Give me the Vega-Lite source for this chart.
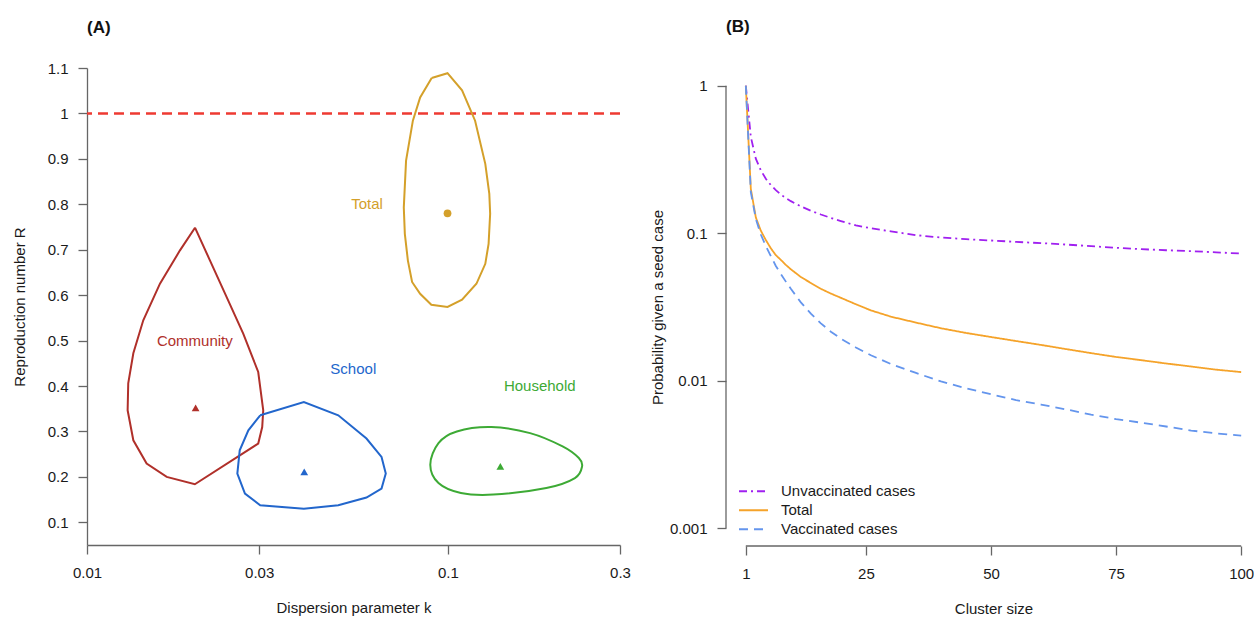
{
  "$schema": "https://vega.github.io/schema/vega-lite/v6.json",
  "background": "white",
  "padding": {"left": 12, "top": 18, "right": 0, "bottom": 0},
  "spacing": 19,
  "config": {
    "font": "Liberation Sans",
    "view": {"stroke": null},
    "axis": {
      "labelFont": "Liberation Sans", "labelFontSize": 15, "labelColor": "#1a1a1a",
      "titleFont": "Liberation Sans", "titleFontSize": 15, "titleFontWeight": "normal", "titleColor": "#1a1a1a",
      "domainColor": "#666666", "tickColor": "#666666", "domainWidth": 1.3, "tickWidth": 1.3, "tickSize": 9,
      "grid": false, "labelFlush": false, "labelOverlap": false
    },
    "axisX": {"labelPadding": 11, "titlePadding": 20},
    "axisY": {"labelPadding": 10}
  },
  "datasets": {
    "contours": [
      {"g": "Community", "o": 1, "k": 0.01992, "r": 0.7485},
      {"g": "Community", "o": 2, "k": 0.02191, "r": 0.6766},
      {"g": "Community", "o": 3, "k": 0.02438, "r": 0.5958},
      {"g": "Community", "o": 4, "k": 0.0271, "r": 0.5153},
      {"g": "Community", "o": 5, "k": 0.02982, "r": 0.4308},
      {"g": "Community", "o": 6, "k": 0.03079, "r": 0.3465},
      {"g": "Community", "o": 7, "k": 0.03059, "r": 0.3098},
      {"g": "Community", "o": 8, "k": 0.02982, "r": 0.2733},
      {"g": "Community", "o": 9, "k": 0.0199, "r": 0.1837},
      {"g": "Community", "o": 10, "k": 0.01663, "r": 0.2},
      {"g": "Community", "o": 11, "k": 0.01463, "r": 0.2293},
      {"g": "Community", "o": 12, "k": 0.01344, "r": 0.2805},
      {"g": "Community", "o": 13, "k": 0.01296, "r": 0.3465},
      {"g": "Community", "o": 14, "k": 0.01301, "r": 0.406},
      {"g": "Community", "o": 15, "k": 0.01344, "r": 0.472},
      {"g": "Community", "o": 16, "k": 0.01432, "r": 0.5446},
      {"g": "Community", "o": 17, "k": 0.01593, "r": 0.6253},
      {"g": "Community", "o": 18, "k": 0.0181, "r": 0.6986},
      {"g": "Community", "o": 19, "k": 0.01992, "r": 0.7485},
      {"g": "School", "o": 1, "k": 0.0302, "r": 0.3355},
      {"g": "School", "o": 2, "k": 0.0399, "r": 0.3648},
      {"g": "School", "o": 3, "k": 0.0497, "r": 0.3355},
      {"g": "School", "o": 4, "k": 0.0595, "r": 0.2843},
      {"g": "School", "o": 5, "k": 0.0655, "r": 0.2438},
      {"g": "School", "o": 6, "k": 0.0673, "r": 0.2072},
      {"g": "School", "o": 7, "k": 0.0655, "r": 0.1742},
      {"g": "School", "o": 8, "k": 0.0595, "r": 0.1545},
      {"g": "School", "o": 9, "k": 0.0497, "r": 0.1375},
      {"g": "School", "o": 10, "k": 0.0399, "r": 0.13},
      {"g": "School", "o": 11, "k": 0.0302, "r": 0.1375},
      {"g": "School", "o": 12, "k": 0.0274, "r": 0.1633},
      {"g": "School", "o": 13, "k": 0.0261, "r": 0.2073},
      {"g": "School", "o": 14, "k": 0.0265, "r": 0.2585},
      {"g": "School", "o": 15, "k": 0.028, "r": 0.3025},
      {"g": "School", "o": 16, "k": 0.0302, "r": 0.3355},
      {"g": "Total", "o": 1, "k": 0.0902, "r": 1.078},
      {"g": "Total", "o": 2, "k": 0.0998, "r": 1.0886},
      {"g": "Total", "o": 3, "k": 0.1095, "r": 1.051},
      {"g": "Total", "o": 4, "k": 0.119, "r": 0.984},
      {"g": "Total", "o": 5, "k": 0.127, "r": 0.889},
      {"g": "Total", "o": 6, "k": 0.1303, "r": 0.823},
      {"g": "Total", "o": 7, "k": 0.131, "r": 0.779},
      {"g": "Total", "o": 8, "k": 0.1297, "r": 0.713},
      {"g": "Total", "o": 9, "k": 0.127, "r": 0.669},
      {"g": "Total", "o": 10, "k": 0.12, "r": 0.625},
      {"g": "Total", "o": 11, "k": 0.1095, "r": 0.59},
      {"g": "Total", "o": 12, "k": 0.0998, "r": 0.574},
      {"g": "Total", "o": 13, "k": 0.09, "r": 0.579},
      {"g": "Total", "o": 14, "k": 0.0838, "r": 0.603},
      {"g": "Total", "o": 15, "k": 0.0796, "r": 0.629},
      {"g": "Total", "o": 16, "k": 0.0775, "r": 0.676},
      {"g": "Total", "o": 17, "k": 0.076, "r": 0.735},
      {"g": "Total", "o": 18, "k": 0.0755, "r": 0.793},
      {"g": "Total", "o": 19, "k": 0.0766, "r": 0.896},
      {"g": "Total", "o": 20, "k": 0.08, "r": 0.984},
      {"g": "Total", "o": 21, "k": 0.0838, "r": 1.035},
      {"g": "Total", "o": 22, "k": 0.0902, "r": 1.078}
    ],
    "household": [
      {"g": "Household", "o": 1, "k": 0.0894, "r": 0.2267},
      {"g": "Household", "o": 2, "k": 0.0942, "r": 0.2744},
      {"g": "Household", "o": 3, "k": 0.1059, "r": 0.3},
      {"g": "Household", "o": 4, "k": 0.132, "r": 0.3095},
      {"g": "Household", "o": 5, "k": 0.169, "r": 0.2963},
      {"g": "Household", "o": 6, "k": 0.208, "r": 0.267},
      {"g": "Household", "o": 7, "k": 0.2307, "r": 0.2414},
      {"g": "Household", "o": 8, "k": 0.2355, "r": 0.223},
      {"g": "Household", "o": 9, "k": 0.225, "r": 0.1974},
      {"g": "Household", "o": 10, "k": 0.1875, "r": 0.1755},
      {"g": "Household", "o": 11, "k": 0.1337, "r": 0.161},
      {"g": "Household", "o": 12, "k": 0.1087, "r": 0.1645},
      {"g": "Household", "o": 13, "k": 0.0942, "r": 0.1864}
    ],
    "estimates": [
      {"g": "Community", "k": 0.02, "r": 0.352},
      {"g": "School", "k": 0.04, "r": 0.211},
      {"g": "Household", "k": 0.1398, "r": 0.223},
      {"g": "Total", "k": 0.0998, "r": 0.78}
    ],
    "labels": [
      {"g": "Community", "k": 0.0199, "r": 0.5},
      {"g": "School", "k": 0.0547, "r": 0.438},
      {"g": "Household", "k": 0.1798, "r": 0.399},
      {"g": "Total", "k": 0.0597, "r": 0.8}
    ],
    "threshold": [
      {"r": 1}
    ],
    "clusters": [
      {"series": "Unvaccinated cases", "n": 1, "p": 1},
      {"series": "Unvaccinated cases", "n": 2, "p": 0.45},
      {"series": "Unvaccinated cases", "n": 3, "p": 0.32},
      {"series": "Unvaccinated cases", "n": 4, "p": 0.267},
      {"series": "Unvaccinated cases", "n": 5, "p": 0.234},
      {"series": "Unvaccinated cases", "n": 6, "p": 0.212},
      {"series": "Unvaccinated cases", "n": 7, "p": 0.196},
      {"series": "Unvaccinated cases", "n": 8, "p": 0.183},
      {"series": "Unvaccinated cases", "n": 9, "p": 0.173},
      {"series": "Unvaccinated cases", "n": 10, "p": 0.165},
      {"series": "Unvaccinated cases", "n": 12, "p": 0.152},
      {"series": "Unvaccinated cases", "n": 14, "p": 0.142},
      {"series": "Unvaccinated cases", "n": 16, "p": 0.134},
      {"series": "Unvaccinated cases", "n": 18, "p": 0.127},
      {"series": "Unvaccinated cases", "n": 20, "p": 0.121},
      {"series": "Unvaccinated cases", "n": 23, "p": 0.113},
      {"series": "Unvaccinated cases", "n": 26, "p": 0.108},
      {"series": "Unvaccinated cases", "n": 30, "p": 0.103},
      {"series": "Unvaccinated cases", "n": 35, "p": 0.097},
      {"series": "Unvaccinated cases", "n": 40, "p": 0.0935},
      {"series": "Unvaccinated cases", "n": 45, "p": 0.0912},
      {"series": "Unvaccinated cases", "n": 50, "p": 0.0893},
      {"series": "Unvaccinated cases", "n": 55, "p": 0.0874},
      {"series": "Unvaccinated cases", "n": 60, "p": 0.0857},
      {"series": "Unvaccinated cases", "n": 65, "p": 0.0838},
      {"series": "Unvaccinated cases", "n": 70, "p": 0.0818},
      {"series": "Unvaccinated cases", "n": 75, "p": 0.0797},
      {"series": "Unvaccinated cases", "n": 80, "p": 0.078},
      {"series": "Unvaccinated cases", "n": 85, "p": 0.0767},
      {"series": "Unvaccinated cases", "n": 90, "p": 0.0756},
      {"series": "Unvaccinated cases", "n": 95, "p": 0.0742},
      {"series": "Unvaccinated cases", "n": 100, "p": 0.0729},
      {"series": "Total", "n": 1, "p": 1},
      {"series": "Total", "n": 2, "p": 0.2},
      {"series": "Total", "n": 3, "p": 0.128},
      {"series": "Total", "n": 4, "p": 0.104},
      {"series": "Total", "n": 5, "p": 0.09},
      {"series": "Total", "n": 6, "p": 0.079},
      {"series": "Total", "n": 7, "p": 0.071},
      {"series": "Total", "n": 8, "p": 0.066},
      {"series": "Total", "n": 9, "p": 0.061},
      {"series": "Total", "n": 10, "p": 0.057},
      {"series": "Total", "n": 12, "p": 0.0505},
      {"series": "Total", "n": 14, "p": 0.046},
      {"series": "Total", "n": 16, "p": 0.042},
      {"series": "Total", "n": 18, "p": 0.039},
      {"series": "Total", "n": 20, "p": 0.0365},
      {"series": "Total", "n": 23, "p": 0.033},
      {"series": "Total", "n": 26, "p": 0.03},
      {"series": "Total", "n": 30, "p": 0.0272},
      {"series": "Total", "n": 35, "p": 0.0248},
      {"series": "Total", "n": 40, "p": 0.0227},
      {"series": "Total", "n": 45, "p": 0.0211},
      {"series": "Total", "n": 50, "p": 0.0198},
      {"series": "Total", "n": 55, "p": 0.0186},
      {"series": "Total", "n": 60, "p": 0.0175},
      {"series": "Total", "n": 65, "p": 0.0164},
      {"series": "Total", "n": 70, "p": 0.0154},
      {"series": "Total", "n": 75, "p": 0.0145},
      {"series": "Total", "n": 80, "p": 0.0138},
      {"series": "Total", "n": 85, "p": 0.0131},
      {"series": "Total", "n": 90, "p": 0.0125},
      {"series": "Total", "n": 95, "p": 0.0119},
      {"series": "Total", "n": 100, "p": 0.01145},
      {"series": "Vaccinated cases", "n": 1, "p": 1},
      {"series": "Vaccinated cases", "n": 2, "p": 0.19},
      {"series": "Vaccinated cases", "n": 3, "p": 0.125},
      {"series": "Vaccinated cases", "n": 4, "p": 0.098},
      {"series": "Vaccinated cases", "n": 5, "p": 0.082},
      {"series": "Vaccinated cases", "n": 6, "p": 0.07},
      {"series": "Vaccinated cases", "n": 7, "p": 0.06},
      {"series": "Vaccinated cases", "n": 8, "p": 0.053},
      {"series": "Vaccinated cases", "n": 9, "p": 0.047},
      {"series": "Vaccinated cases", "n": 10, "p": 0.042},
      {"series": "Vaccinated cases", "n": 12, "p": 0.034},
      {"series": "Vaccinated cases", "n": 14, "p": 0.0285},
      {"series": "Vaccinated cases", "n": 16, "p": 0.0245},
      {"series": "Vaccinated cases", "n": 18, "p": 0.0215},
      {"series": "Vaccinated cases", "n": 20, "p": 0.0193},
      {"series": "Vaccinated cases", "n": 23, "p": 0.0168},
      {"series": "Vaccinated cases", "n": 26, "p": 0.0149},
      {"series": "Vaccinated cases", "n": 30, "p": 0.013},
      {"series": "Vaccinated cases", "n": 35, "p": 0.0113},
      {"series": "Vaccinated cases", "n": 40, "p": 0.0099},
      {"series": "Vaccinated cases", "n": 45, "p": 0.0089},
      {"series": "Vaccinated cases", "n": 50, "p": 0.0081},
      {"series": "Vaccinated cases", "n": 55, "p": 0.0074},
      {"series": "Vaccinated cases", "n": 60, "p": 0.0069},
      {"series": "Vaccinated cases", "n": 65, "p": 0.0064},
      {"series": "Vaccinated cases", "n": 70, "p": 0.0059},
      {"series": "Vaccinated cases", "n": 75, "p": 0.0055},
      {"series": "Vaccinated cases", "n": 80, "p": 0.0052},
      {"series": "Vaccinated cases", "n": 85, "p": 0.0049},
      {"series": "Vaccinated cases", "n": 90, "p": 0.0046},
      {"series": "Vaccinated cases", "n": 95, "p": 0.0044},
      {"series": "Vaccinated cases", "n": 100, "p": 0.00425}
    ]
  },
  "resolve": {"scale": {"color": "independent", "strokeDash": "independent", "shape": "independent"}, "legend": {"color": "independent", "strokeDash": "independent"}},
  "hconcat": [
    {
      "title": {"text": "(A)", "anchor": "start", "frame": "group", "fontSize": 17, "fontWeight": "bold", "color": "#111111", "offset": 24},
      "width": 533,
      "height": 477,
      "encoding": {
        "x": {"field": "k", "type": "quantitative", "scale": {"type": "log", "domain": [0.01, 0.3], "nice": false},
              "axis": {"values": [0.01, 0.03, 0.1, 0.3], "format": "~g", "title": "Dispersion parameter  k"}},
        "y": {"field": "r", "type": "quantitative", "scale": {"domain": [0.05, 1.1], "nice": false, "zero": false},
              "axis": {"values": [0.1, 0.2, 0.3, 0.4, 0.5, 0.6, 0.7, 0.8, 0.9, 1, 1.1], "format": "~g", "title": "Reproduction number  R", "titlePadding": 20}}
      },
      "layer": [
        {
          "data": {"name": "threshold"},
          "mark": {"type": "rule", "color": "#EE3A32", "strokeWidth": 2.5, "strokeDash": [10, 6]},
          "encoding": {"x": null}
        },
        {
          "data": {"name": "contours"},
          "mark": {"type": "line", "strokeWidth": 2},
          "encoding": {
            "order": {"field": "o", "type": "quantitative"},
            "detail": {"field": "g", "type": "nominal"},
            "color": {"field": "g", "type": "nominal", "legend": null,
                      "scale": {"domain": ["Community", "School", "Household", "Total"], "range": ["#B0302A", "#2266CC", "#3DAA35", "#D4A02A"]}}
          }
        },
        {
          "data": {"name": "household"},
          "mark": {"type": "line", "strokeWidth": 2, "interpolate": "cardinal-closed"},
          "encoding": {
            "order": {"field": "o", "type": "quantitative"},
            "color": {"field": "g", "type": "nominal", "legend": null,
                      "scale": {"domain": ["Community", "School", "Household", "Total"], "range": ["#B0302A", "#2266CC", "#3DAA35", "#D4A02A"]}}
          }
        },
        {
          "data": {"name": "estimates"},
          "mark": {"type": "point", "filled": true, "opacity": 1, "size": 60},
          "encoding": {
            "shape": {"field": "g", "type": "nominal", "legend": null,
                      "scale": {"domain": ["Community", "School", "Household", "Total"], "range": ["triangle-up", "triangle-up", "triangle-up", "circle"]}},
            "color": {"field": "g", "type": "nominal", "legend": null,
                      "scale": {"domain": ["Community", "School", "Household", "Total"], "range": ["#B0302A", "#2266CC", "#3DAA35", "#D4A02A"]}}
          }
        },
        {
          "data": {"name": "labels"},
          "mark": {"type": "text", "fontSize": 15, "align": "center", "baseline": "middle"},
          "encoding": {
            "text": {"field": "g"},
            "color": {"field": "g", "type": "nominal", "legend": null,
                      "scale": {"domain": ["Community", "School", "Household", "Total"], "range": ["#B0302A", "#2266CC", "#3DAA35", "#D4A02A"]}}
          }
        }
      ]
    },
    {
      "title": {"text": "(B)", "anchor": "start", "frame": "group", "fontSize": 17, "fontWeight": "bold", "color": "#111111", "offset": 32},
      "width": 535,
      "height": 478,
      "layer": [
        {
          "data": {"values": [{}]},
          "mark": {"type": "rule", "color": "#666666", "strokeWidth": 1.3},
          "encoding": {
            "x": {"datum": 1, "type": "quantitative", "scale": {"domain": [-2.96, 103.96], "nice": false, "zero": false}},
            "x2": {"datum": 100},
            "y": {"datum": 0.000759, "type": "quantitative", "scale": {"type": "log", "domain": [0.000759, 1.318], "nice": false}}
          }
        },
        {
          "data": {"values": [{}]},
          "mark": {"type": "rule", "color": "#666666", "strokeWidth": 1.3},
          "encoding": {
            "x": {"datum": -2.96, "type": "quantitative"},
            "y": {"datum": 0.001, "type": "quantitative"},
            "y2": {"datum": 1}
          }
        },
        {
          "data": {"name": "clusters"},
          "mark": {"type": "line", "strokeWidth": 1.8},
          "encoding": {
            "x": {"field": "n", "type": "quantitative", "scale": {"domain": [-2.96, 103.96], "nice": false, "zero": false},
                  "axis": {"values": [1, 25, 50, 75, 100], "domain": false, "title": "Cluster size"}},
            "y": {"field": "p", "type": "quantitative", "scale": {"type": "log", "domain": [0.000759, 1.318], "nice": false},
                  "axis": {"values": [0.001, 0.01, 0.1, 1], "format": "~g", "domain": false, "title": "Probability given a seed case", "titlePadding": 4}},
            "color": {"field": "series", "type": "nominal",
                      "scale": {"domain": ["Unvaccinated cases", "Total", "Vaccinated cases"], "range": ["#A020F0", "#F5A32A", "#6495ED"]},
                      "legend": {"title": null, "orient": "bottom-left", "offset": 7, "symbolType": "stroke", "symbolSize": 841, "symbolStrokeWidth": 1.8, "symbolOffset": 5, "clipHeight": 18.5, "labelFontSize": 15, "labelColor": "#1a1a1a", "rowPadding": 0, "labelOffset": 12}},
            "strokeDash": {"field": "series", "type": "nominal",
                      "scale": {"domain": ["Unvaccinated cases", "Total", "Vaccinated cases"], "range": [[8, 4, 2, 4], [1, 0], [9, 6]]},
                      "legend": {"title": null, "orient": "bottom-left", "offset": 7, "symbolType": "stroke", "symbolSize": 841, "symbolStrokeWidth": 1.8, "symbolOffset": 5, "clipHeight": 18.5, "labelFontSize": 15, "labelColor": "#1a1a1a", "rowPadding": 0, "labelOffset": 12}}
          }
        }
      ]
    }
  ]
}
